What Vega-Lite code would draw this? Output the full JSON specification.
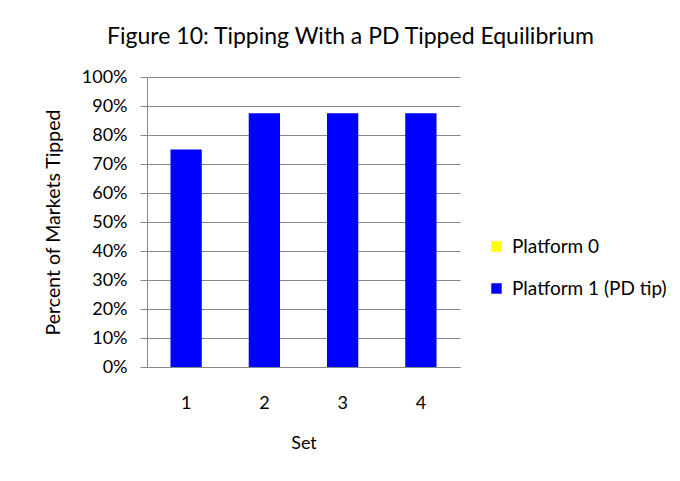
{
  "$schema": "https://vega.github.io/schema/vega-lite/v6.json",
  "width": 313,
  "height": 290,
  "autosize": "none",
  "padding": {"left": 147, "top": 77, "right": 220, "bottom": 114},
  "background": "white",
  "title": {
    "text": "Figure 10: Tipping With a PD Tipped Equilibrium",
    "font": "Lato",
    "fontSize": 23,
    "fontWeight": "normal",
    "color": "#000000",
    "anchor": "middle",
    "dx": 47,
    "offset": 19
  },
  "data": {
    "values": [
      {"set": "1", "platform": "Platform 0", "pct": 0},
      {"set": "1", "platform": "Platform 1 (PD tip)", "pct": 0.75},
      {"set": "2", "platform": "Platform 0", "pct": 0},
      {"set": "2", "platform": "Platform 1 (PD tip)", "pct": 0.875},
      {"set": "3", "platform": "Platform 0", "pct": 0},
      {"set": "3", "platform": "Platform 1 (PD tip)", "pct": 0.875},
      {"set": "4", "platform": "Platform 0", "pct": 0},
      {"set": "4", "platform": "Platform 1 (PD tip)", "pct": 0.875}
    ]
  },
  "mark": {"type": "bar"},
  "encoding": {
    "x": {
      "field": "set",
      "type": "ordinal",
      "title": "Set",
      "scale": {"paddingInner": 0.6, "paddingOuter": 0.3},
      "axis": {
        "labelAngle": 0,
        "labelFont": "Lato",
        "labelFontSize": 18,
        "labelColor": "#000000",
        "labelPadding": 27,
        "ticks": false,
        "domainColor": "#888888",
        "titleFont": "Lato",
        "titleFontSize": 18,
        "titleFontWeight": "normal",
        "titleColor": "#000000",
        "titlePadding": 22
      }
    },
    "y": {
      "field": "pct",
      "type": "quantitative",
      "stack": "zero",
      "title": "Percent of Markets Tipped",
      "scale": {"domain": [0, 1], "nice": false},
      "axis": {
        "format": ".0%",
        "values": [0, 0.1, 0.2, 0.3, 0.4, 0.5, 0.6, 0.7, 0.8, 0.9, 1],
        "labelFont": "Lato",
        "labelFontSize": 18,
        "labelColor": "#000000",
        "labelPadding": 13,
        "tickSize": 7,
        "tickColor": "#888888",
        "grid": true,
        "gridColor": "#888888",
        "domainColor": "#888888",
        "titleFont": "Lato",
        "titleFontSize": 19.5,
        "titleFontWeight": "normal",
        "titleColor": "#000000",
        "titlePadding": 18
      }
    },
    "color": {
      "field": "platform",
      "type": "nominal",
      "scale": {"domain": ["Platform 0", "Platform 1 (PD tip)"], "range": ["#FFFF00", "#0000FF"]},
      "legend": {
        "title": null,
        "orient": "none",
        "legendX": 340,
        "legendY": 160,
        "symbolType": "square",
        "symbolSize": 110,
        "symbolStrokeWidth": 0,
        "labelFont": "Lato",
        "labelFontSize": 19,
        "labelColor": "#000000",
        "rowPadding": 22,
        "labelOffset": 6
      }
    },
    "order": {"field": "platform", "sort": "ascending"}
  },
  "config": {
    "view": {"stroke": null},
    "axis": {"gridWidth": 1, "domainWidth": 1}
  }
}
